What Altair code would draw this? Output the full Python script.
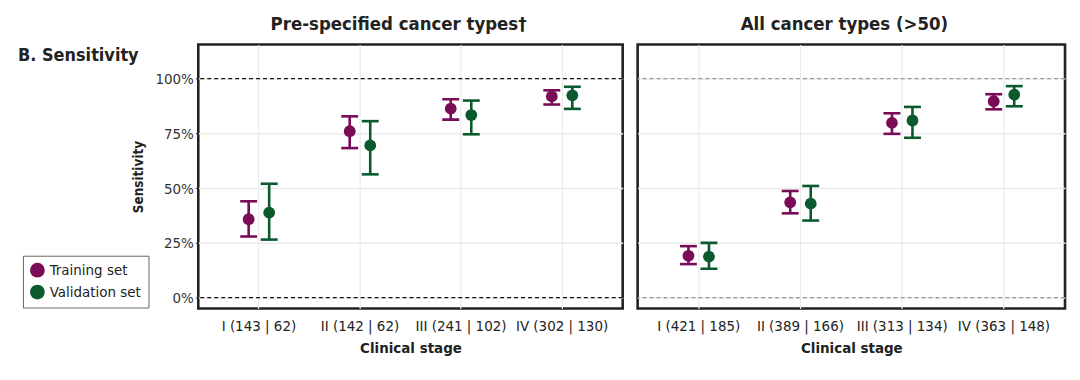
import altair as alt
import pandas as pd

FONT = "Liberation Sans Narrow, DejaVu Sans Condensed, Roboto, sans-serif"

sets = ["Training set", "Validation set"]
set_colors = ["#7A0C57", "#0B5A2D"]

stages_pre = ["I (143 | 62)", "II (142 | 62)", "III (241 | 102)", "IV (302 | 130)"]
stages_all = ["I (421 | 185)", "II (389 | 166)", "III (313 | 134)", "IV (363 | 148)"]

pre_train = [35.8, 76.0, 86.3, 91.9]
pre_train_lo = [27.9, 68.3, 81.3, 88.2]
pre_train_hi = [44.0, 82.8, 90.6, 94.7]
pre_val = [38.8, 69.5, 83.4, 92.4]
pre_val_lo = [26.5, 56.3, 74.6, 86.2]
pre_val_hi = [52.0, 80.6, 90.0, 96.3]

all_train = [19.1, 43.5, 79.8, 89.7]
all_train_lo = [15.3, 38.5, 74.8, 86.0]
all_train_hi = [23.5, 48.7, 84.2, 92.9]
all_val = [18.7, 42.9, 80.9, 92.7]
all_val_lo = [13.2, 35.2, 73.0, 87.4]
all_val_hi = [25.0, 51.0, 87.1, 96.6]

ref_lines = [0, 100]
y_values = [0, 12.5, 25, 37.5, 50, 62.5, 75, 87.5, 100, 112.5]

H = 265


def panel(stages, tr, trl, trh, va, val, vah, title, width, first, ref_color, title_dx):
    rows = []
    for i, s in enumerate(stages):
        rows.append({"stage": s, "set": sets[0], "v": tr[i], "lo": trl[i], "hi": trh[i]})
        rows.append({"stage": s, "set": sets[1], "v": va[i], "lo": val[i], "hi": vah[i]})
    df = pd.DataFrame(rows)
    bw = width / 4.2
    major = "datum.value % 25 == 0"
    x = alt.X("stage:N", sort=stages,
              scale=alt.Scale(paddingInner=0, paddingOuter=0.1),
              axis=alt.Axis(title="Clinical stage", labelAngle=0, ticks=False,
                            bandPosition=0.5, labelPadding=10, titlePadding=7,
                            labelFontSize=15, titleFontSize=15, titleFontWeight="bold",
                            labelColor="#222", titleColor="#222",
                            labelFont=FONT, titleFont=FONT,
                            gridColor="#ebebeb", gridWidth=1.2, grid=True))
    xo = alt.XOffset("set:N", sort=sets,
                     scale=alt.Scale(range=[bw / 2 - 20.6, bw / 2 + 20.6], paddingInner=0, paddingOuter=0))
    yax = alt.Axis(values=y_values,
                   labelExpr="datum.value % 25 == 0 ? datum.value + '%' : ''",
                   labels=first,
                   title="Sensitivity" if first else None,
                   titleFontWeight="bold", titleFontSize=13.5, titlePadding=9,
                   labelFontSize=15, labelColor="#333", titleColor="#222",
                   labelFont=FONT, titleFont=FONT,
                   ticks=first, tickSize=3, tickColor="#333",
                   tickOpacity={"condition": {"test": major, "value": 1}, "value": 0},
                   labelPadding=2,
                   gridColor="#ebebeb",
                   gridWidth={"condition": {"test": major, "value": 1.4}, "value": 0.9})
    yscale = alt.Scale(domain=[-5, 115.6], nice=False, zero=False)
    color_scale = alt.Scale(domain=sets, range=set_colors)
    if first:
        leg = alt.Legend(title=None, orient="none", legendX=-176, legendY=212,
                         symbolType="circle", symbolSize=220, symbolStrokeWidth=0,
                         symbolOpacity=1,
                         labelFontSize=15, labelColor="#222", labelFont=FONT,
                         strokeColor="#666", fillColor="white", padding=7, rowPadding=6,
                         labelOffset=5)
    else:
        leg = None
    col = alt.Color("set:N", scale=color_scale, legend=leg)
    base = alt.Chart(df)

    refs = alt.Chart(pd.DataFrame({"r": ref_lines})).mark_rule(
        color=ref_color, strokeDash=[4, 3], strokeWidth=1.2
    ).encode(y=alt.Y("r:Q", scale=yscale, axis=yax))

    bars = base.mark_rule(strokeWidth=2.6, opacity=1).encode(
        x=x, xOffset=xo, y=alt.Y("lo:Q", scale=yscale), y2="hi:Q", color=col)
    cap_lo = base.mark_tick(orient="horizontal", size=17, thickness=2.6, opacity=1).encode(
        x=x, xOffset=xo, y=alt.Y("lo:Q", scale=yscale), color=col)
    cap_hi = base.mark_tick(orient="horizontal", size=17, thickness=2.6, opacity=1).encode(
        x=x, xOffset=xo, y=alt.Y("hi:Q", scale=yscale), color=col)
    pts = base.mark_circle(size=140, opacity=1).encode(
        x=x, xOffset=xo, y=alt.Y("v:Q", scale=yscale), color=col)
    layers = [refs, bars, cap_lo, cap_hi, pts]
    if first:
        lab = alt.Chart(pd.DataFrame({"t": ["B. Sensitivity"]})).mark_text(
            align="left", baseline="alphabetic", fontSize=18, fontWeight="bold",
            font=FONT, color="#222"
        ).encode(x=alt.value(-181), y=alt.value(17), text="t:N")
        layers.append(lab)
    return alt.layer(*layers).properties(
        width=width, height=H,
        view=alt.ViewBackground(stroke="#222", strokeWidth=2.6),
        title=alt.Title(title, fontSize=18.5, fontWeight="bold", offset=11, dx=title_dx,
                        font=FONT, color="#222"))


left = panel(stages_pre, pre_train, pre_train_lo, pre_train_hi, pre_val, pre_val_lo, pre_val_hi,
             "Pre-specified cancer types\u2020", 426, True, "#111", -12)
right = panel(stages_all, all_train, all_train_lo, all_train_hi, all_val, all_val_lo, all_val_hi,
              "All cancer types (>50)", 429, False, "#999", -7)

chart = alt.hconcat(left, right, spacing=11).resolve_scale(
    x="independent", xOffset="independent"
).resolve_legend(color="independent").properties(
    padding={"left": 8, "top": 5, "right": 5, "bottom": 5},
    background="white"
).configure_view(stroke="#222", strokeWidth=2.6).configure_axis(
    domain=False, labelFont=FONT, titleFont=FONT
)

chart.save("out.html", embed_options={"renderer": "svg", "actions": False})
